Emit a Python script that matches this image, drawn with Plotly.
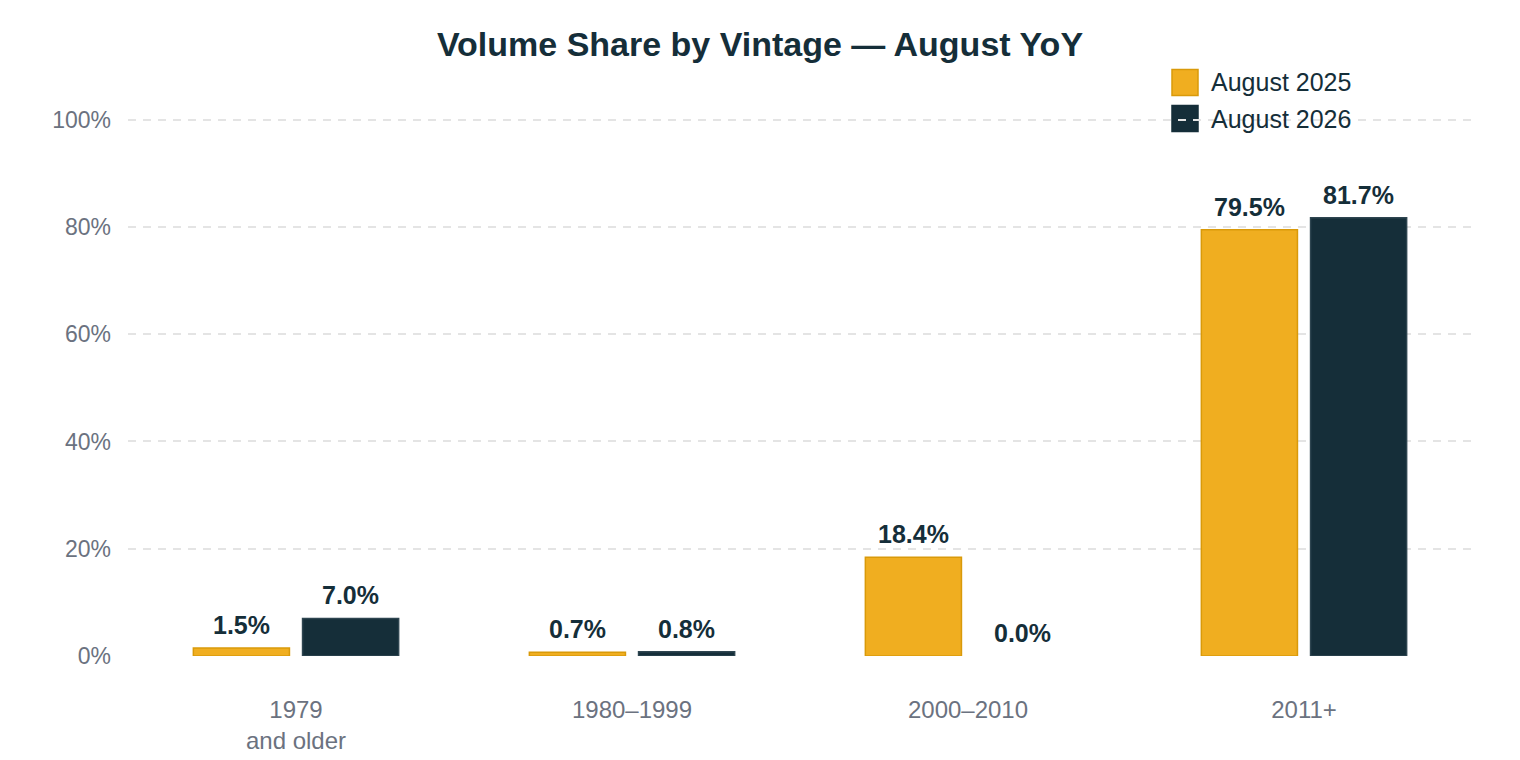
import plotly.graph_objects as go

categories = ["1979<br>and older", "1980–1999", "2000–2010", "2011+"]
aug_2025 = [1.5, 0.7, 18.4, 79.5]
aug_2026 = [7.0, 0.8, 0.0, 81.7]
series_names = ["August 2025", "August 2026"]
y_ticks = [0, 20, 40, 60, 80, 100]
y_tick_labels = ["0%", "20%", "40%", "60%", "80%", "100%"]

GOLD = "#F0AE20"
GOLD_LINE = "#D99A0A"
DARK = "#152E39"
DARK_LINE = "#2E4550"
TICK = "#6B7280"
FONT = "Liberation Sans, Arial, Helvetica, sans-serif"

# page has an 8px body margin; figure sized to fit
W, H = 1512, 752
ML, MR, MT, MB = 120, 48, 109, 104
PW, PH = W - ML - MR, H - MT - MB

series = [
    (series_names[0], aug_2025, GOLD, GOLD_LINE, -54.5),
    (series_names[1], aug_2026, DARK, DARK_LINE, 54.5),
]

fig = go.Figure()
annotations = []
for name, vals, color, line, xs in series:
    fig.add_trace(go.Bar(
        x=categories, y=vals, name=name, showlegend=False,
        marker=dict(color=color,
                    line=dict(color=line, width=[1.5 if v > 0 else 0 for v in vals])),
        hovertemplate="%{y:.1f}%<extra>" + name + "</extra>",
    ))
    for c, v in zip(categories, vals):
        annotations.append(dict(
            x=c, y=v, xref="x", yref="y", xshift=xs, yshift=23,
            text=f"<b>{v:.1f}%</b>", showarrow=False,
            xanchor="center", yanchor="middle",
            font=dict(family=FONT, size=25, color=DARK),
        ))

# manual legend (large square swatches)
shapes = []
def py2paper(py):  # screen pixel y -> paper
    return (H - MB + 8 - py) / PH
def px2paper(px):
    return (px - ML - 8) / PW

leg = [(series_names[0], GOLD, GOLD_LINE, 82.5), (series_names[1], DARK, DARK, 118.5)]
for name, color, line, cy in leg:
    shapes.append(dict(
        type="rect", xref="paper", yref="paper", layer="below",
        x0=px2paper(1172), x1=px2paper(1198),
        y0=py2paper(cy + 13), y1=py2paper(cy - 13),
        fillcolor=color, line=dict(color=line, width=1.5),
    ))
    annotations.append(dict(
        x=px2paper(1209), y=py2paper(cy), xref="paper", yref="paper",
        text=name, showarrow=False, xanchor="left", yanchor="middle",
        font=dict(family=FONT, size=25, color=DARK),
    ))

fig.update_layout(
    width=W, height=H,
    margin=dict(l=ML, r=MR, t=MT, b=MB),
    paper_bgcolor="white", plot_bgcolor="white",
    barmode="group", bargap=0.35, bargroupgap=0.12,
    showlegend=False,
    title=dict(text="<b>Volume Share by Vintage — August YoY</b>",
               x=752 / W, xanchor="center", y=1 - 36 / H, yanchor="middle",
               font=dict(family=FONT, size=34, color=DARK)),
    font=dict(family=FONT),
    annotations=annotations,
    shapes=shapes,
)
fig.update_xaxes(
    showgrid=False, showline=False, ticks="", zeroline=False,
    tickfont=dict(family=FONT, size=24, color=TICK),
    ticklabelstandoff=37, automargin=False,
)
fig.update_yaxes(
    range=[0, 100.5], tickvals=y_ticks, ticktext=y_tick_labels,
    showgrid=True, gridcolor="#E4E4E4", griddash="8px,7px", gridwidth=2,
    zeroline=False, showline=False, ticks="",
    tickfont=dict(family=FONT, size=23, color=TICK),
    ticklabelstandoff=16, automargin=False,
)

fig.write_html("out.html")
